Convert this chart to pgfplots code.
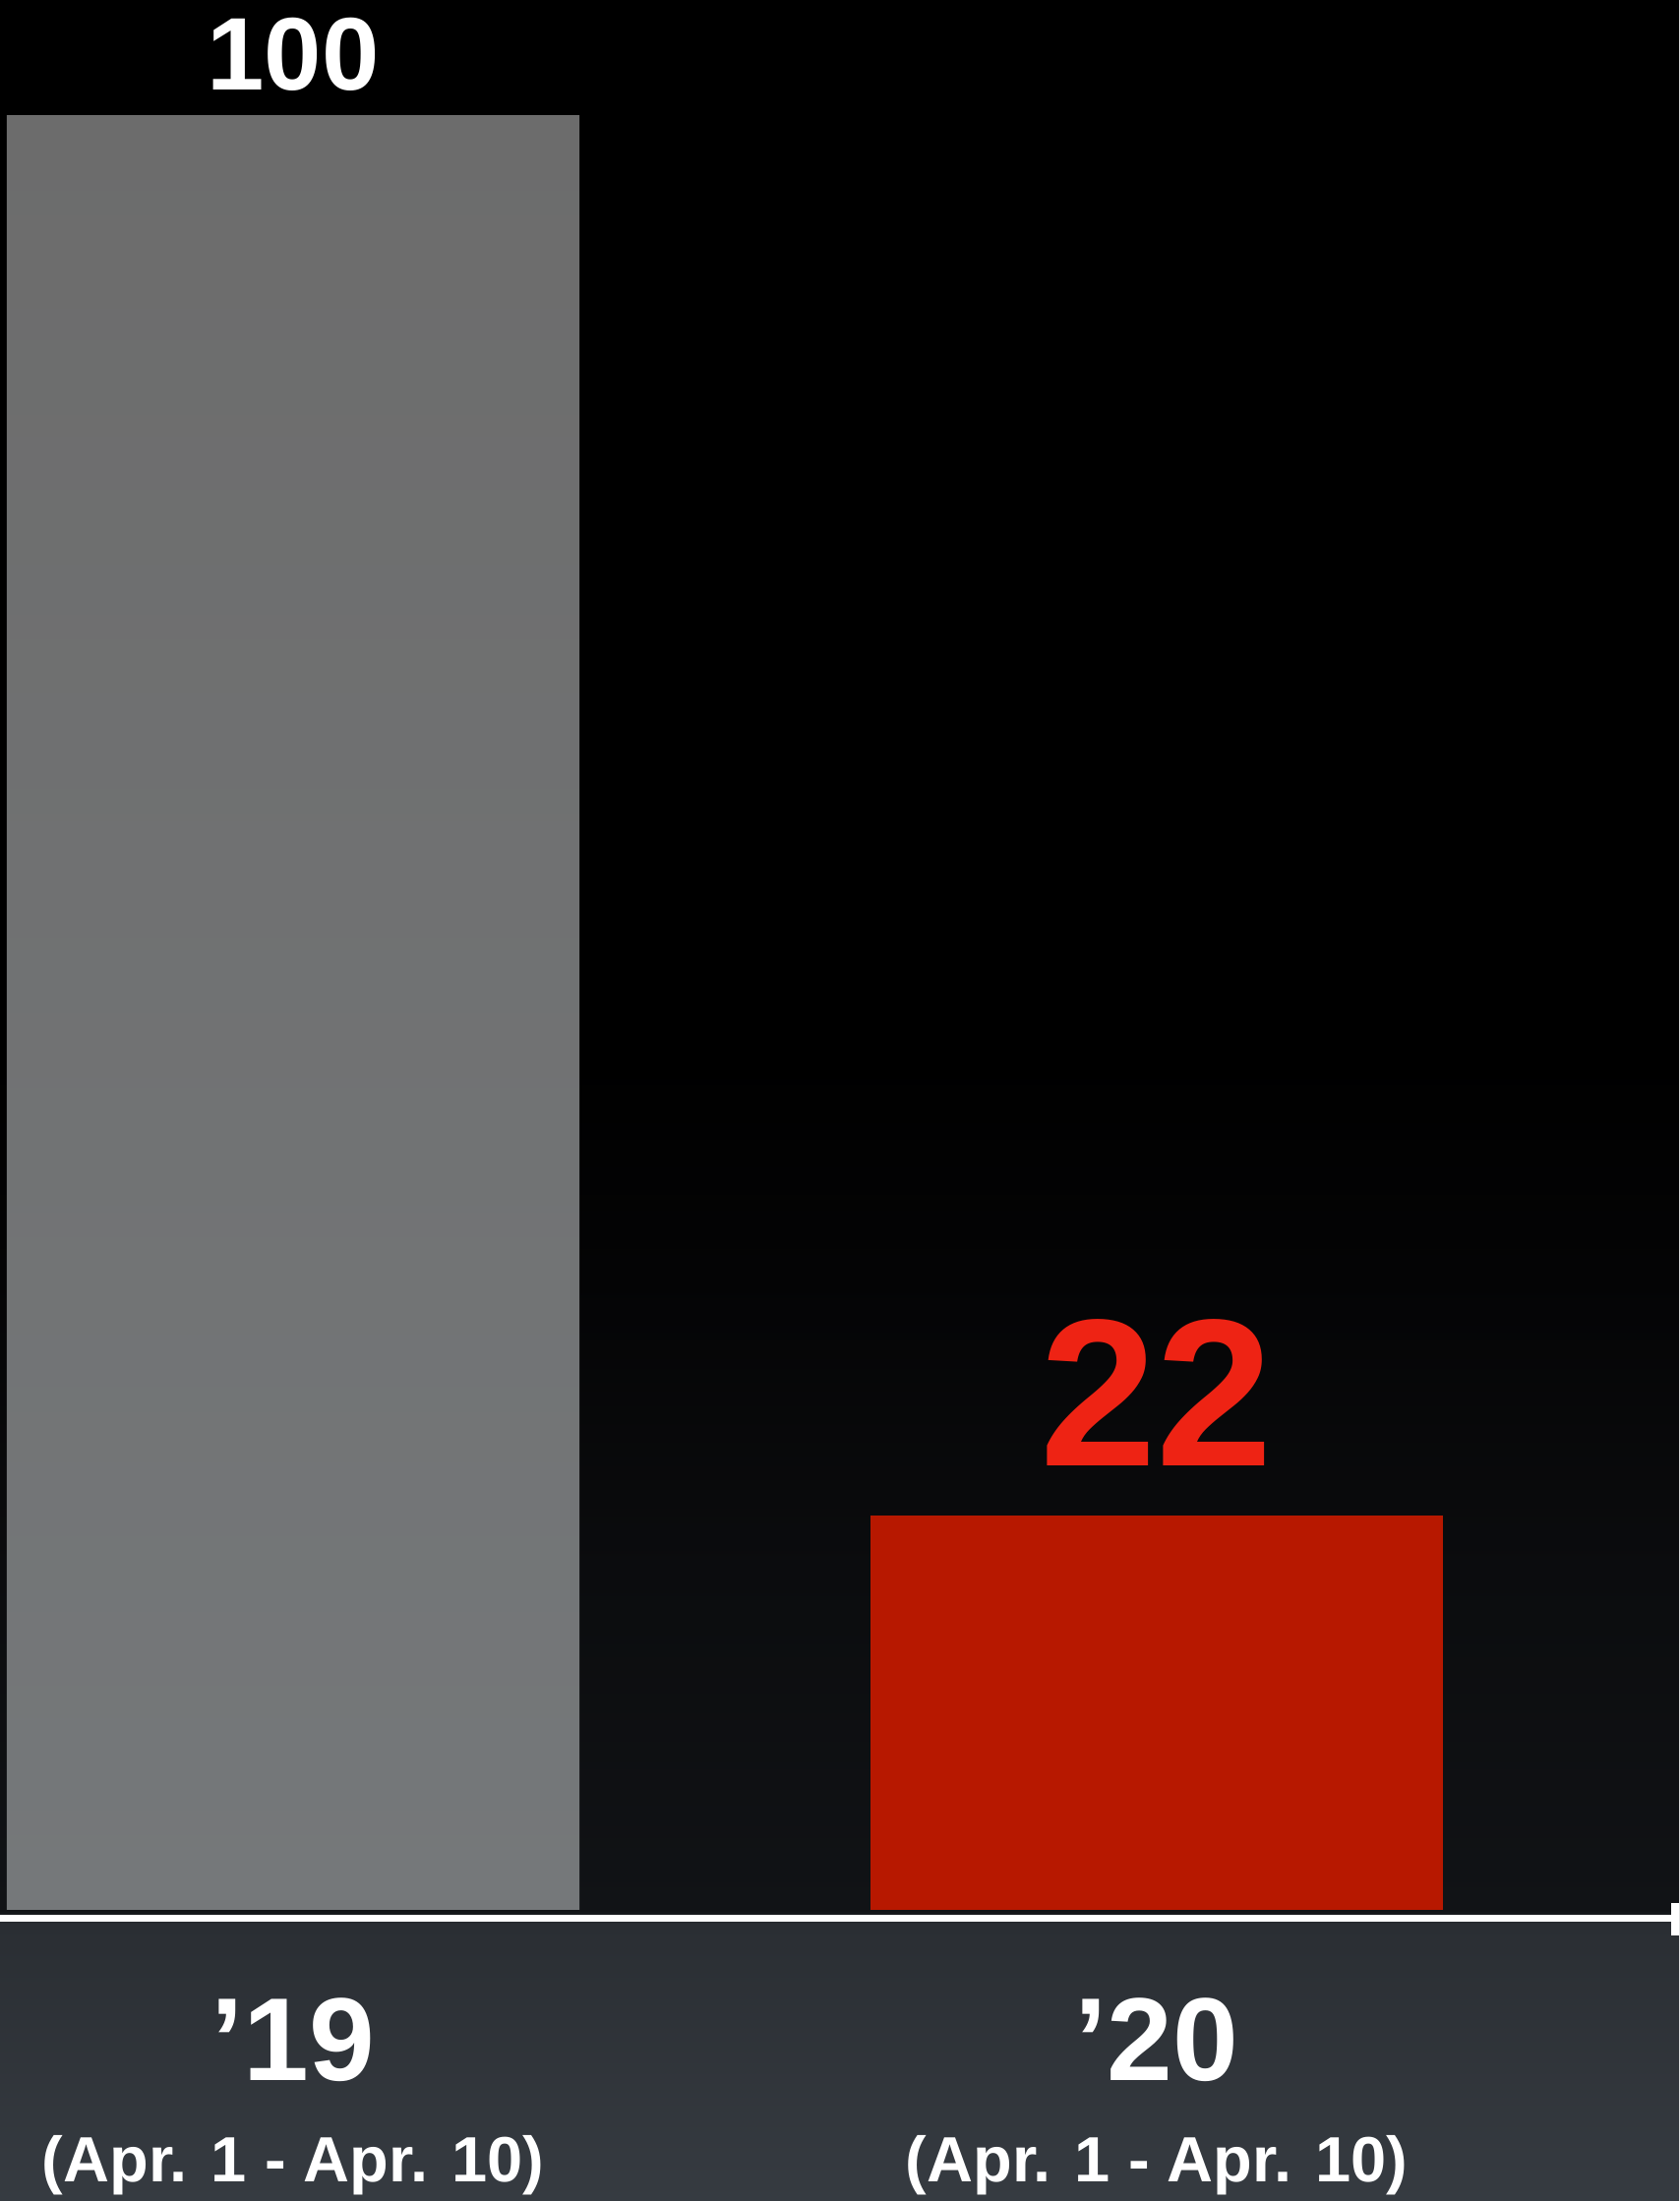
\documentclass[border=0pt]{standalone}
\usepackage{fontspec}
\setmainfont{Liberation Sans}
\usepackage{pgfplots}
\pgfplotsset{compat=1.18}
\definecolor{bgbot}{HTML}{363B41}
\definecolor{bgmid}{HTML}{2A2E33}
\definecolor{bgdark}{HTML}{111316}
\definecolor{bgdeep}{HTML}{0B0C0E}
\definecolor{bgdeeper}{HTML}{040405}
\definecolor{grayTop}{HTML}{6C6C6C}
\definecolor{grayBot}{HTML}{75787A}
\definecolor{barRed}{HTML}{B71800}
\definecolor{labRed}{HTML}{EE2314}
\pgfdeclareverticalshading{bgshade}{100bp}{color(0bp)=(bgbot); color(25bp)=(bgbot); color(31.3bp)=(bgmid); color(31.6bp)=(bgdark); color(39.3bp)=(bgdeep); color(46bp)=(bgdeeper); color(51bp)=(black); color(100bp)=(black)}
\begin{document}
\begin{tikzpicture}[trim axis left, trim axis right]
\begin{axis}[
  scale only axis,
  width=512.1pt, height=671.4pt,
  xmin=-0.3394, xmax=1.6048,
  ymin=-16.23, ymax=106.47,
  axis line style={draw=none},
  tick style={draw=none},
  ymajorticks=false,
  /pgf/number format/assume math mode=true,
  xtick={0,1},
  xticklabels={{{\fontsize{36}{36}\selectfont ’19}\\{(Apr. 1 - Apr. 10)}},{{\fontsize{36}{36}\selectfont ’20}\\{(Apr. 1 - Apr. 10)}}},
  xticklabel style={anchor=south, yshift=1.5pt, inner sep=0pt, align=center, text=white, font=\bfseries\fontsize{19.5}{30.9}\selectfont},
  axis background/.style={shade, shading=bgshade},
  clip=false,
]
\addplot[ybar, bar shift=0pt, bar width=0.663, draw=none, top color=grayTop, bottom color=grayBot,
  nodes near coords, nodes near coords style={anchor=base, yshift=7.8pt, inner sep=0pt, text=white, font=\bfseries\fontsize{31.5}{31.5}\selectfont}]
  coordinates {(0,100)};
\addplot[ybar, bar shift=0pt, bar width=0.663, draw=none, fill=barRed,
  nodes near coords, nodes near coords style={anchor=base, yshift=15pt, inner sep=0pt, text=labRed, font=\bfseries\fontsize{64}{64}\selectfont}]
  coordinates {(1,22)};
\draw[white, line width=2.1pt] (axis cs:-0.3394,-0.49) -- (axis cs:1.6048,-0.49);
\fill[white] (axis cs:1.5957,0.38) rectangle (axis cs:1.6048,-1.43);
\end{axis}
\end{tikzpicture}
\end{document}
